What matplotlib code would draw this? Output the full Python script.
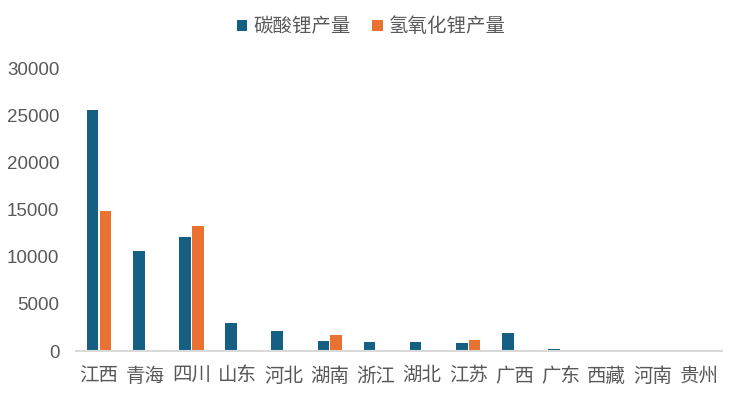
import numpy as np
import matplotlib.pyplot as plt

plt.rcParams['font.family'] = ['Liberation Sans', 'Noto Sans CJK SC', 'DejaVu Sans']

provinces = ['江西', '青海', '四川', '山东', '河北', '湖南', '浙江', '湖北',
             '江苏', '广西', '广东', '西藏', '河南', '贵州']
li2co3 = [25550, 10560, 12050, 2920, 2070, 1110, 1000, 1000, 900, 1960, 200, 0, 0, 0]
lioh = [14810, 0, 13220, 0, 0, 1650, 0, 0, 1220, 0, 0, 0, 0, 0]

blue = '#156082'
orange = '#E97132'
gray = '#595959'

fig = plt.figure(figsize=(7.42, 3.99), dpi=100)
ax = fig.add_axes([76 / 742, 48 / 399, 646 / 742, 282.7 / 399])

x = np.arange(len(provinces))
w = 0.25
ax.bar(x - w / 2 - 0.015, li2co3, width=w, color=blue, label='碳酸锂产量')
ax.bar(x + w / 2 + 0.015, lioh, width=w, color=orange, label='氢氧化锂产量')

ax.set_xlim(-0.5, len(provinces) - 0.5)
ax.set_ylim(0, 30000)
ax.set_yticks(np.arange(0, 30001, 5000))
ax.set_xticks(x)
ax.set_xticklabels(provinces, fontsize=14, color=gray)
ax.tick_params(axis='y', labelsize=13.5, labelcolor=gray, length=0, pad=12)
ax.tick_params(axis='x', length=0, pad=12)

for s in ['top', 'right', 'left']:
    ax.spines[s].set_visible(False)
ax.spines['bottom'].set_color('#d9d9d9')
ax.spines['bottom'].set_linewidth(1.5)

fig.legend(loc='center', bbox_to_anchor=(0.5, 1 - 27 / 399), ncol=2, frameon=False,
           fontsize=14, labelcolor=gray, handlelength=0.55, handleheight=0.55,
           handletextpad=0.3, columnspacing=1.1)

fig.savefig('out.png', dpi=100)
